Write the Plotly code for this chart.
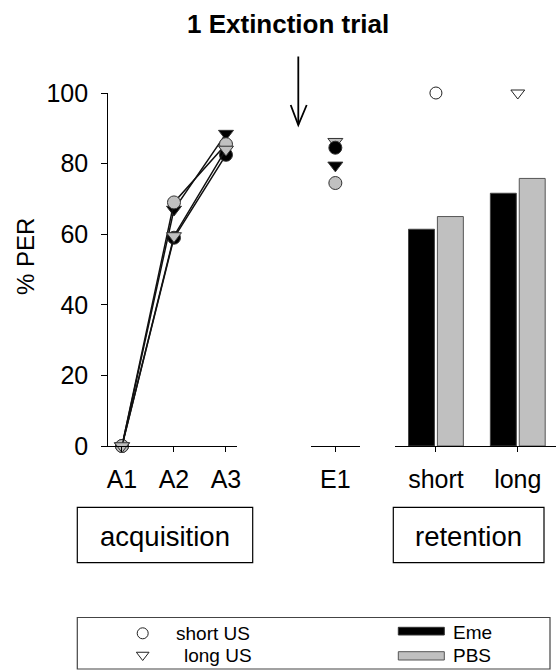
import plotly.graph_objects as go

# ---------------- data ----------------
acq_cats = ["A1", "A2", "A3"]
eme_short_acq = [0, 59, 82.5]
eme_long_acq = [0, 67, 88.5]
pbs_short_acq = [0, 69, 85.5]
pbs_long_acq = [0, 59.5, 84]

ext_cats = ["E1"]
eme_short_ext = [84.5]
eme_long_ext = [79.5]
pbs_short_ext = [74.5]
pbs_long_ext = [86.2]

ret_cats = ["short", "long"]
eme_ret = [61.4, 71.6]
pbs_ret = [65.0, 75.8]
ret_ref_short = [100]
ret_ref_long = [100]

y_ticks = [0, 20, 40, 60, 80, 100]

W, H = 556, 671
FONT = "Liberation Sans, Arial, Helvetica, sans-serif"
BLACK = "#000000"
GRAY = "#c0c0c0"

def px(x):
    return x / W

def py(y):
    return (H - y) / H

fig = go.Figure()

# ---- acquisition lines + markers ----
series = [
    (eme_short_acq, eme_short_ext, "circle", BLACK),
    (eme_long_acq, eme_long_ext, "triangle-down", BLACK),
    (pbs_short_acq, pbs_short_ext, "circle", GRAY),
    (pbs_long_acq, pbs_long_ext, "triangle-down", GRAY),
]
for acq, ext, sym, col in series:
    fig.add_trace(go.Scatter(
        x=acq_cats, y=acq, mode="lines+markers", xaxis="x", yaxis="y",
        line=dict(color="#111111", width=1.5),
        marker=dict(symbol=sym, size=13, color=col, line=dict(color="#333333", width=1)),
        cliponaxis=False, showlegend=False,
    ))
for acq, ext, sym, col in [series[3], series[0], series[1], series[2]]:
    fig.add_trace(go.Scatter(
        x=ext_cats, y=ext, mode="markers", xaxis="x2", yaxis="y2",
        marker=dict(symbol=sym, size=13, color=col, line=dict(color="#333333", width=1)),
        cliponaxis=False, showlegend=False,
    ))

# ---- retention bars ----
fig.add_trace(go.Bar(
    x=ret_cats, y=eme_ret, xaxis="x3", yaxis="y3",
    width=0.317, offset=-0.335,
    marker=dict(color=BLACK, line=dict(color="#444444", width=1)),
    showlegend=False,
))
fig.add_trace(go.Bar(
    x=ret_cats, y=pbs_ret, xaxis="x3", yaxis="y3",
    width=0.317, offset=0.018,
    marker=dict(color=GRAY, line=dict(color="#555555", width=1)),
    showlegend=False,
))
fig.add_trace(go.Scatter(
    x=["short"], y=ret_ref_short, mode="markers", xaxis="x3", yaxis="y3",
    marker=dict(symbol="circle-open", size=12, color="#222222", line=dict(width=1)),
    cliponaxis=False, showlegend=False,
))
fig.add_trace(go.Scatter(
    x=["long"], y=ret_ref_long, mode="markers", xaxis="x3", yaxis="y3",
    marker=dict(symbol="triangle-down-open", size=12, color="#222222", line=dict(width=1)),
    cliponaxis=False, showlegend=False,
))

# ---- legend symbols (pixel overlay axes) ----
fig.add_trace(go.Scatter(
    x=[142.7], y=[633.3], mode="markers", xaxis="x4", yaxis="y4",
    marker=dict(symbol="circle-open", size=11, color="#222222", line=dict(width=1)),
    showlegend=False, cliponaxis=False,
))
fig.add_trace(go.Scatter(
    x=[142.7], y=[655], mode="markers", xaxis="x4", yaxis="y4",
    marker=dict(symbol="triangle-down-open", size=11, color="#222222", line=dict(width=1)),
    showlegend=False, cliponaxis=False,
))

y_dom = [py(446), py(93)]
tickfont = dict(family=FONT, size=25, color=BLACK)
xcommon = dict(showline=True, linecolor=BLACK, linewidth=1.2, ticks="outside",
               ticklen=5, tickcolor=BLACK, tickwidth=1, showgrid=False,
               zeroline=False, tickfont=tickfont, type="category",
               ticklabelstandoff=6, fixedrange=True, automargin=False)
yhidden = dict(range=[0, 100], domain=y_dom, visible=False, fixedrange=True, automargin=False)

fig.update_layout(
    template="none",
    width=W, height=H,
    margin=dict(l=0, r=0, t=0, b=0, pad=0, autoexpand=False),
    paper_bgcolor="white", plot_bgcolor="rgba(0,0,0,0)",
    font=dict(family=FONT, color=BLACK),
    showlegend=False,
    xaxis=dict(domain=[px(101.7), px(236.7)], range=[-0.39, 2.206], anchor="y", **xcommon),
    yaxis=dict(domain=y_dom, range=[0, 100], anchor="free", position=px(107.3),
               showline=True, linecolor=BLACK, linewidth=1.2, ticks="outside",
               ticklen=6, tickcolor=BLACK, tickvals=y_ticks, showgrid=False,
               zeroline=False, tickfont=tickfont, ticklabelstandoff=8,
               fixedrange=True, automargin=False),
    xaxis2=dict(domain=[px(310.7), px(360)], range=[-0.5, 0.5], anchor="y2", **xcommon),
    yaxis2=dict(anchor="x2", **yhidden),
    xaxis3=dict(domain=[px(395), 1.0], range=[-0.5, 1.467], anchor="y3", **xcommon),
    yaxis3=dict(anchor="x3", **yhidden),
    xaxis4=dict(domain=[0, 1], range=[0, W], anchor="y4", visible=False,
                fixedrange=True, automargin=False),
    yaxis4=dict(domain=[0, 1], range=[H, 0], anchor="x4", visible=False,
                fixedrange=True, automargin=False),
)

shapes = []
# boxes
for x0, x1 in [(77.3, 252.7), (393.3, 544)]:
    shapes.append(dict(type="rect", xref="x4", yref="y4", x0=x0, x1=x1, y0=507.3, y1=562.7,
                       line=dict(color=BLACK, width=1.2), fillcolor="rgba(0,0,0,0)"))
# legend box
shapes.append(dict(type="rect", xref="x4", yref="y4", x0=77.3, x1=550, y0=617.5, y1=669,
                   line=dict(color="#444444", width=1.2), fillcolor="rgba(0,0,0,0)"))
# legend swatches
shapes.append(dict(type="rect", xref="x4", yref="y4", x0=398.3, x1=444.3, y0=627.3, y1=635,
                   line=dict(color="#333333", width=1), fillcolor=BLACK))
shapes.append(dict(type="rect", xref="x4", yref="y4", x0=398.3, x1=444.3, y0=651.7, y1=660,
                   line=dict(color="#555555", width=1), fillcolor=GRAY))
# arrow
shapes.append(dict(type="line", xref="x4", yref="y4", x0=298.3, x1=298.3, y0=56.5, y1=124.5,
                   line=dict(color=BLACK, width=1.8)))
shapes.append(dict(type="path", xref="x4", yref="y4",
                   path="M 290.7 105 L 298.3 125 L 306.7 105",
                   line=dict(color=BLACK, width=1.8)))
fig.update_layout(shapes=shapes)

ann = []
def text(x, y, s, size, xanchor="center", bold=False, angle=0):
    ann.append(dict(x=x, y=y, xref="x4", yref="y4", text=(f"<b>{s}</b>" if bold else s),
                    showarrow=False, xanchor=xanchor, yanchor="middle", textangle=angle,
                    font=dict(family=FONT, size=size, color=BLACK)))

text(288, 24, "1 Extinction trial", 26, bold=True)
text(25, 257, "% PER", 24, angle=-90)
text(165, 536, "acquisition", 27.5)
text(468.5, 536, "retention", 27.5)
text(174.3, 633, "short US", 19, xanchor="left")
text(181.7, 655, "long US", 19, xanchor="left")
text(451, 632, "Eme", 19, xanchor="left")
text(451, 655, "PBS", 19, xanchor="left")
fig.update_layout(annotations=ann)

fig.write_html("out.html")
